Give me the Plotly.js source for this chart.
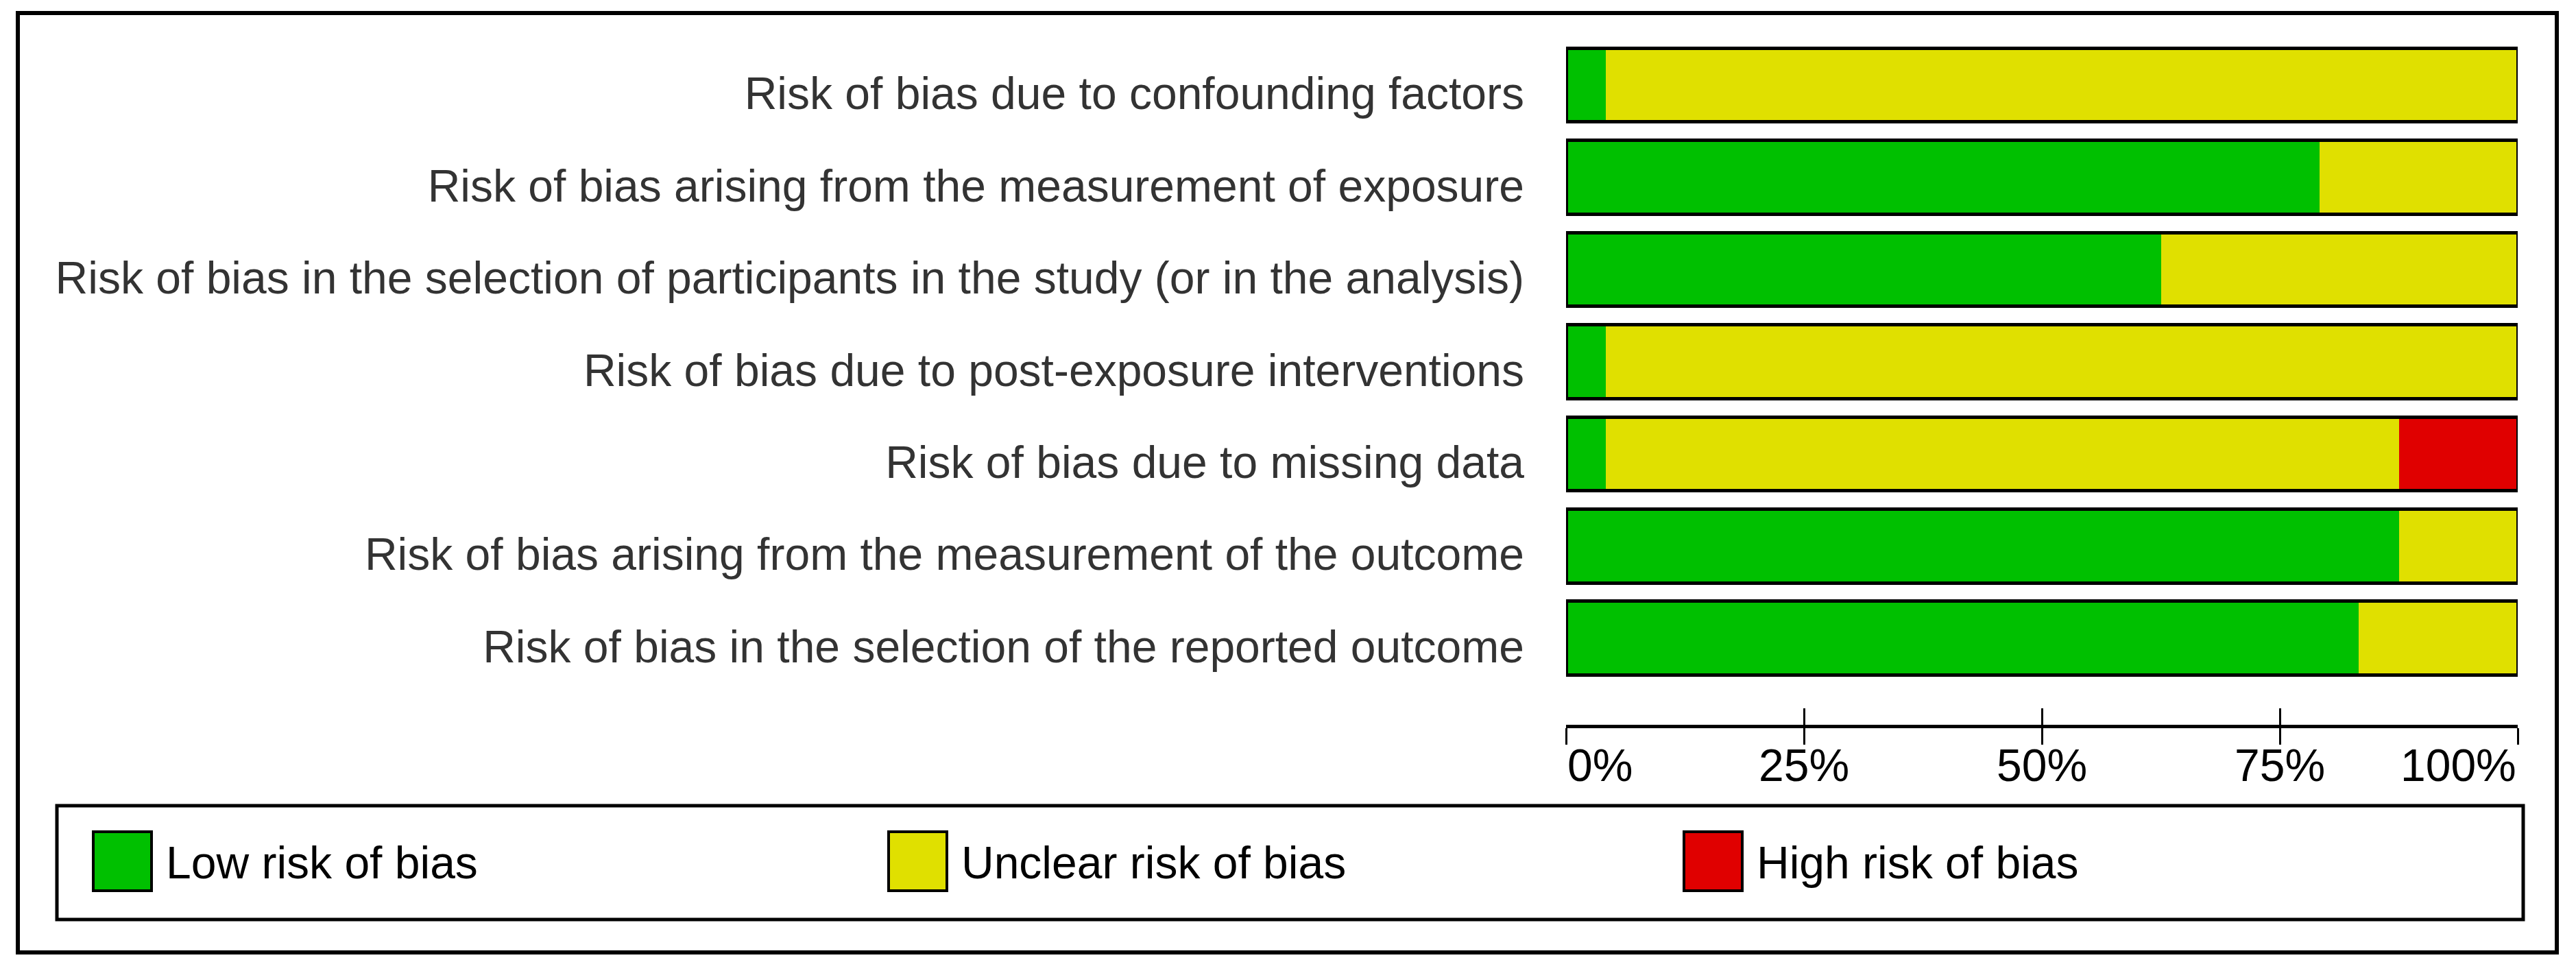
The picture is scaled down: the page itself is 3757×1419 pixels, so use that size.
<!DOCTYPE html>
<html>
<head>
<meta charset="utf-8">
<script src="https://cdn.plot.ly/plotly-3.0.1.min.js"></script>
<style>
  html, body { margin: 0; padding: 0; background: #ffffff; }
  #chart { width: 3757px; height: 1419px; }
</style>
</head>
<body>
<div id="chart"></div>
<script>
// ---- Data (percent of studies) ----
var domains = [
  "Risk of bias due to confounding factors",
  "Risk of bias arising from the measurement of exposure",
  "Risk of bias in the selection of participants in the study (or in the analysis)",
  "Risk of bias due to post-exposure interventions",
  "Risk of bias due to missing data",
  "Risk of bias arising from the measurement of the outcome",
  "Risk of bias in the selection of the reported outcome"
];
var lowRisk     = [4.2, 79.2, 62.5, 4.2, 4.2, 87.5, 83.3];
var unclearRisk = [95.8, 20.8, 37.5, 95.8, 83.3, 12.5, 16.7];
var highRisk    = [0, 0, 0, 0, 12.5, 0, 0];
var seriesNames = ["Low risk of bias", "Unclear risk of bias", "High risk of bias"];
var tickValues  = [0, 25, 50, 75, 100];
var tickLabels  = ["0%", "25%", "50%", "75%", "100%"];

// ---- Styles / layout constants ----
var seriesColors = ["#00c000", "#e0e000", "#e00000"];
var W = 3757, H = 1419;
var L = 2284, R = 3672, T = 57, B = 1057;   // plot area in pixels
var FONT = "Liberation Sans, Arial, sans-serif";
var FS = 66;
function px(x) { return (x - L) / (R - L); }
function py(y) { return (B - y) / (B - T); }

var seriesData = [lowRisk, unclearRisk, highRisk];
var traces = seriesData.map(function (vals, i) {
  return {
    type: "bar", orientation: "h",
    x: vals, y: domains, name: seriesNames[i],
    marker: { color: seriesColors[i], line: { width: 0 } },
    hoverinfo: "x+name", showlegend: false
  };
});
// outline of each whole bar (sum of the three segments), on an overlaid axis
var totals = domains.map(function (_, k) { return lowRisk[k] + unclearRisk[k] + highRisk[k]; });
traces.push({
  type: "bar", orientation: "h", x: totals, y: domains, xaxis: "x2",
  marker: { color: "rgba(0,0,0,0)", line: { color: "#000000", width: 5 } },
  hoverinfo: "skip", showlegend: false
});

var annotations = tickValues.map(function (v, i) {
  return {
    x: v, xref: "x", y: 0, yref: "paper", yanchor: "top",
    xanchor: i === 0 ? "left" : (i === tickValues.length - 1 ? "right" : "center"),
    yshift: -20, text: tickLabels[i], showarrow: false,
    font: { family: FONT, size: FS, color: "#000000" }
  };
});

var shapes = [
  // outer frame
  { type: "rect", xref: "paper", yref: "paper", x0: px(26), x1: px(3729), y0: py(1389), y1: py(19),
    line: { color: "#000000", width: 6 }, fillcolor: "rgba(0,0,0,0)", layer: "below" },
  // legend frame
  { type: "rect", xref: "paper", yref: "paper", x0: px(83), x1: px(3680), y0: py(1341), y1: py(1175),
    line: { color: "#000000", width: 5 }, fillcolor: "rgba(0,0,0,0)" }
];
var swatchX = [134, 1294, 2454];
seriesNames.forEach(function (name, i) {
  shapes.push({ type: "rect", xref: "paper", yref: "paper",
    x0: px(swatchX[i] + 2), x1: px(swatchX[i] + 87), y0: py(1299), y1: py(1213),
    line: { color: "#000000", width: 4 }, fillcolor: seriesColors[i] });
  annotations.push({ x: px(swatchX[i] + 106), xref: "paper", xanchor: "left",
    y: py(1258), yref: "paper", yanchor: "middle", text: name, showarrow: false,
    font: { family: FONT, size: FS, color: "#000000" } });
});

var layout = {
  width: W, height: H,
  margin: { l: L, r: W - R, t: T, b: H - B, pad: 0 },
  paper_bgcolor: "#ffffff", plot_bgcolor: "#ffffff",
  barmode: "stack", bargap: 0.2, showlegend: false,
  font: { family: FONT, size: FS, color: "#333333" },
  xaxis: {
    range: [0, 100], showgrid: false, zeroline: false,
    showline: true, linecolor: "#000000", linewidth: 5,
    ticks: "outside", ticklen: 24, tickwidth: 3, tickcolor: "#000000",
    tickmode: "array", tickvals: tickValues, showticklabels: false, fixedrange: true
  },
  xaxis2: {
    overlaying: "x", anchor: "y", side: "bottom", range: [0, 100],
    showgrid: false, zeroline: false, showline: false,
    ticks: "inside", ticklen: 24, tickwidth: 3, tickcolor: "#000000",
    tickmode: "array", tickvals: tickValues, showticklabels: false, fixedrange: true
  },
  yaxis: {
    type: "category", range: [6.94, -0.5], showgrid: false, zeroline: false,
    showline: false, ticks: "", ticklabelstandoff: 60, ticklabelshift: -12,
    tickfont: { family: FONT, size: FS, color: "#333333" }, fixedrange: true
  },
  shapes: shapes,
  annotations: annotations
};

Plotly.newPlot("chart", traces, layout, { displayModeBar: false, staticPlot: true });
</script>
</body>
</html>
